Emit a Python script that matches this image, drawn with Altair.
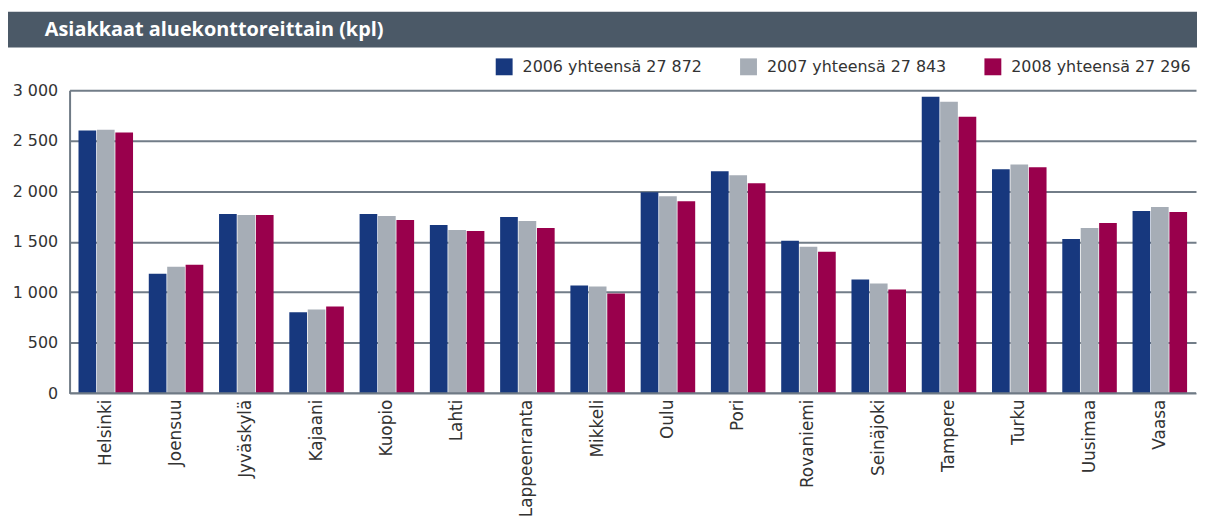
import altair as alt
import pandas as pd

cities = ["Helsinki", "Joensuu", "Jyväskylä", "Kajaani", "Kuopio", "Lahti",
          "Lappeenranta", "Mikkeli", "Oulu", "Pori", "Rovaniemi", "Seinäjoki",
          "Tampere", "Turku", "Uusimaa", "Vaasa"]
v2006 = [2600, 1183, 1773, 800, 1773, 1665, 1744, 1065, 1990, 2196, 1508, 1124, 2934, 2216, 1527, 1803]
v2007 = [2609, 1252, 1763, 829, 1753, 1616, 1704, 1055, 1950, 2157, 1449, 1085, 2885, 2265, 1636, 1842]
v2008 = [2580, 1272, 1763, 859, 1714, 1606, 1636, 987, 1901, 2078, 1400, 1026, 2737, 2236, 1685, 1793]
series = ["2006 yhteensä 27 872", "2007 yhteensä 27 843", "2008 yhteensä 27 296"]
colors = ["#17387e", "#a6adb6", "#99004c"]
title_text = "Asiakkaat aluekonttoreittain (kpl)"

rows = []
for s, vals in zip(series, [v2006, v2007, v2008]):
    for c, v in zip(cities, vals):
        rows.append({"city": c, "series": s, "value": v})
df = pd.DataFrame(rows)

FONT = "DejaVu Sans"
W, H = 1134, 305

bars = alt.Chart(df).mark_bar().encode(
    x=alt.X("city:N", sort=cities, title=None,
            scale=alt.Scale(paddingInner=0.224, paddingOuter=0.127),
            axis=alt.Axis(labelAngle=270, labelFontSize=17, labelFont=FONT,
                          labelColor="#333333", ticks=False, labelPadding=6,
                          labelLimit=0, domain=False, grid=False)),
    xOffset=alt.XOffset("series:N", sort=series,
                        scale=alt.Scale(paddingInner=0.04, paddingOuter=0)),
    y=alt.Y("value:Q", title=None,
            scale=alt.Scale(domain=[0, 3000], nice=False),
            axis=alt.Axis(values=[0, 500, 1000, 1500, 2000, 2500, 3000],
                          labelExpr="replace(format(datum.value, ','), ',', ' ')",
                          labelFontSize=16, labelFont=FONT, labelColor="#333333",
                          ticks=False, labelPadding=12,
                          domain=True, domainColor="#6f7a85", domainWidth=2,
                          grid=True, gridColor="#727d88", gridWidth=2)),
    color=alt.Color("series:N", sort=series,
                    scale=alt.Scale(domain=series, range=colors),
                    legend=alt.Legend(title=None, orient="none", direction="horizontal",
                                      legendX=429, legendY=-32, symbolType="square",
                                      symbolSize=289, symbolStrokeWidth=0,
                                      labelFontSize=16, labelFont=FONT, labelLimit=0,
                                      labelColor="#333333", columnPadding=38,
                                      labelOffset=10, padding=0)),
)

bottom_line = alt.Chart(pd.DataFrame({"v": [0]})).mark_rule(
    color="#6f7a85", strokeWidth=2).encode(
    y=alt.Y("v:Q", scale=alt.Scale(domain=[0, 3000], nice=False)),
    x=alt.value(0), x2=alt.value(W))

title_bar = alt.Chart(pd.DataFrame({"t": [title_text]})).mark_rect(
    color="#4b5967").encode(
    x=alt.value(-62), x2=alt.value(W + 2), y=alt.value(-79), y2=alt.value(-43))

title_txt = alt.Chart(pd.DataFrame({"t": [title_text]})).mark_text(
    align="left", baseline="middle", font="Open Sans", fontSize=20, fontWeight="bold",
    color="white").encode(
    x=alt.value(-25), y=alt.value(-61), text="t:N")

chart = alt.layer(title_bar, title_txt, bars, bottom_line).properties(
    width=W, height=H,
    autosize="none",
    padding={"left": 62, "top": 81, "right": 1, "bottom": 126},
).configure_view(stroke=None).configure_axis(gridCap="butt")

chart.save("out.html", embed_options={"renderer": "svg", "actions": False})
